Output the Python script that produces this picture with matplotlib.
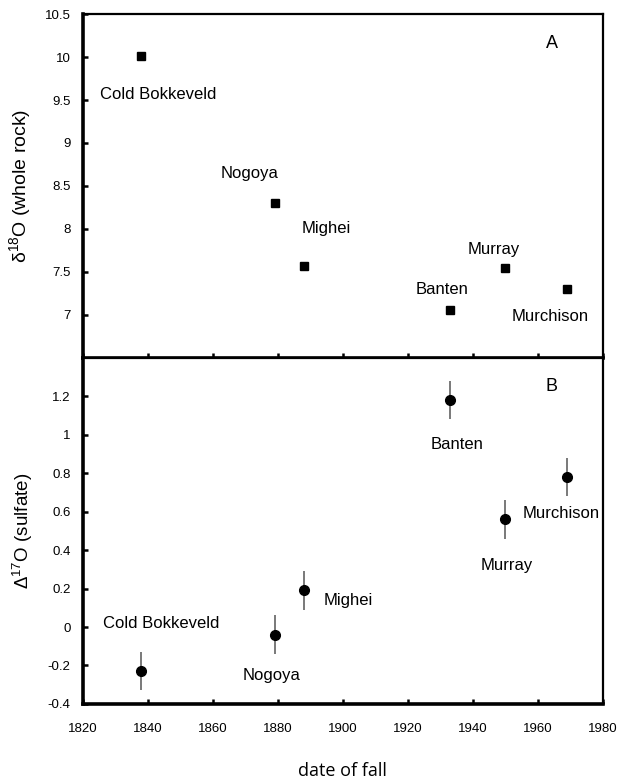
import matplotlib.pyplot as plt

names = ['Cold Bokkeveld', 'Nogoya', 'Mighei', 'Banten', 'Murray', 'Murchison']
year_fall = [1838, 1879, 1888, 1933, 1950, 1969]
d18o_rock = [10.01, 8.30, 7.57, 7.06, 7.54, 7.30]
D17o_sulf = [-0.23, -0.04, 0.19, 1.18, 0.56, 0.78]
D17o_err = [0.10, 0.10, 0.10, 0.10, 0.10, 0.10]

# label offsets (years, data units) for each panel
lab_a = [(5, -0.44), (-7.8, 0.35), (7, 0.43), (-2.4, 0.24), (-3.5, 0.22), (-5.2, -0.32)]
lab_b = [(6, 0.25), (-1, -0.21), (13.7, -0.05), (2, -0.23), (0.5, -0.24), (-1.8, -0.19)]

plt.rcParams['font.family'] = ['Liberation Sans', 'DejaVu Sans']

fig = plt.figure(figsize=(6.19, 7.83), dpi=100)
axA = fig.add_axes([0.134, 0.543, 0.840, 0.439])
axB = fig.add_axes([0.134, 0.101, 0.840, 0.442])

for ax in (axA, axB):
    ax.set_xlim(1820, 1980)
    ax.set_xticks(range(1820, 1981, 20))
    ax.spines['left'].set_linewidth(2.6)
    ax.spines['bottom'].set_linewidth(2.6)
    ax.spines['top'].set_linewidth(1.6)
    ax.spines['right'].set_linewidth(1.6)
    ax.tick_params(direction='in', length=3.5, width=1.8, labelsize=9.5)
    ax.tick_params(axis='y', pad=9)
    ax.tick_params(axis='x', pad=14)

# panel A
axA.plot(year_fall, d18o_rock, 's', color='black', markersize=6)
axA.set_ylim(6.5, 10.5)
axA.set_yticks([7, 7.5, 8, 8.5, 9, 9.5, 10, 10.5])
axA.set_yticklabels(['7', '7.5', '8', '8.5', '9', '9.5', '10', '10.5'])
axA.tick_params(axis='x', labelbottom=False)
axA.set_ylabel(r'$\mathregular{\delta^{18}O}$ (whole rock)', fontsize=14, labelpad=8)
for n, x, y, off in zip(names, year_fall, d18o_rock, lab_a):
    axA.text(x + off[0], y + off[1], n, fontsize=12, ha='center', va='center')
axA.text(1964.3, 10.16, 'A', fontsize=13, ha='center', va='center')

# panel B
axB.errorbar(year_fall, D17o_sulf, yerr=D17o_err, fmt='o', color='black',
             ecolor='#555555', elinewidth=1.1, markersize=7, capsize=0)
axB.set_ylim(-0.4, 1.4)
yt = [-0.4, -0.2, 0, 0.2, 0.4, 0.6, 0.8, 1, 1.2]
axB.set_yticks(yt)
axB.set_yticklabels(['-0.4', '-0.2', '0', '0.2', '0.4', '0.6', '0.8', '1', '1.2'])
axB.set_ylabel(r'$\mathregular{\Delta^{17}O}$ (sulfate)', fontsize=13.5, labelpad=9)
for n, x, y, off in zip(names, year_fall, D17o_sulf, lab_b):
    axB.text(x + off[0], y + off[1], n, fontsize=12, ha='center', va='center')
axB.text(1964.2, 1.252, 'B', fontsize=13, ha='center', va='center')
axB.set_xlabel('date of fall', fontsize=13, family=['Open Sans', 'DejaVu Sans'], labelpad=19)

fig.savefig('out.png', dpi=100)
